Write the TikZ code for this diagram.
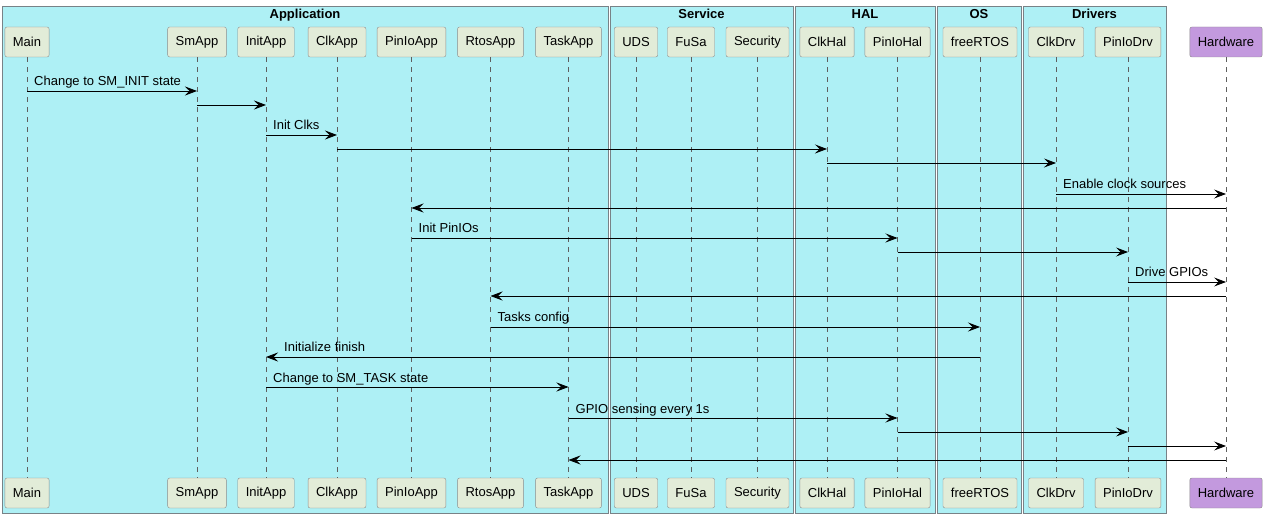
\documentclass[tikz,border=0pt]{standalone}
\usepackage{fontspec}
\setmainfont{Liberation Sans}
\usetikzlibrary{arrows.meta}
\definecolor{groupcyan}{RGB}{174,240,245}
\definecolor{partgreen}{RGB}{226,236,216}
\definecolor{hwpurple}{RGB}{195,153,222}
\definecolor{lifegray}{RGB}{95,95,95}
\definecolor{framegray}{RGB}{120,130,135}
\definecolor{partgray}{RGB}{140,140,140}

\begin{document}
\begin{tikzpicture}[
                x=1pt, y=-1pt,
                grp/.style={draw=framegray, fill=groupcyan, line width=0.9pt},
                grptitle/.style={font=\fontsize{13}{15}\selectfont\bfseries, anchor=base},
                part/.style={rectangle, draw=partgray, fill=partgreen, rounded corners=2pt, minimum height=30pt, inner xsep=8pt, font=\fontsize{13}{15}\selectfont},
                life/.style={draw=lifegray, dash pattern=on 5pt off 5pt, line width=0.6pt},
                msg/.style={-{Stealth[length=12pt,width=9pt,inset=4.5pt]}, line width=0.8pt},
                msglabel/.style={font=\fontsize{13}{15}\selectfont, anchor=base west, inner sep=0pt}
            ]
                \useasboundingbox (0,0) rectangle (1268,518);

                % group boxes
                \draw[grp] (2,6) rectangle (608,513);
                \draw[grp] (610,6) rectangle (793,513);
                \draw[grp] (795,6) rectangle (935,513);
                \draw[grp] (937,6) rectangle (1021,513);
                \draw[grp] (1023,6) rectangle (1166,513);
                \node[grptitle] (tapp) at (305,19) {Application};
                \node[grptitle] (tsrv) at (701.5,19) {Service};
                \node[grptitle] (thal) at (865,19) {HAL};
                \node[grptitle] (tos) at (979,19) {OS};
                \node[grptitle] (tdrv) at (1094.5,19) {Drivers};

                % participants, top and bottom
                \foreach \n/\x/\t in {main/27/Main, smapp/197/SmApp, initapp/266/InitApp, clkapp/337/ClkApp,
                    pinioapp/411.5/PinIoApp, rtosapp/490.5/RtosApp, taskapp/568.5/TaskApp, uds/636/UDS,
                    fusa/691/FuSa, security/757.5/Security, clkhal/827/ClkHal, piniohal/897.5/PinIoHal,
                    freertos/980/freeRTOS, clkdrv/1056/ClkDrv, piniodrv/1128/PinIoDrv} {
                    \node[part] (\n-top) at (\x,42) {\t};
                    \node[part] (\n-bot) at (\x,493) {\t};
                }
                \node[part, fill=hwpurple] (hardware-top) at (1226,42) {Hardware};
                \node[part, fill=hwpurple] (hardware-bot) at (1226,493) {Hardware};

                % lifelines
                \foreach \n in {main, smapp, initapp, clkapp, pinioapp, rtosapp, taskapp, uds, fusa,
                    security, clkhal, piniohal, freertos, clkdrv, piniodrv, hardware}
                    \draw[life] (\n-top.south) -- (\n-bot.north);

                % messages with a label
                \foreach \a/\b/\y/\t in {main/smapp/91/{Change to SM\_INIT state},
                    initapp/clkapp/135/{Init Clks},
                    clkdrv/hardware/194/{Enable clock sources},
                    pinioapp/piniohal/238/{Init PinIOs},
                    piniodrv/hardware/282/{Drive GPIOs},
                    rtosapp/freertos/327/{Tasks config},
                    initapp/taskapp/387/{Change to SM\_TASK state},
                    taskapp/piniohal/418/{GPIO sensing every 1s}} {
                    \draw[msg] (\a-top |- 0,\y) -- (\b-top |- 0,\y);
                    \path (\a-top |- 0,\y) ++(7,-5) node[msglabel] (lbl\y) {\t};
                }
                \draw[msg] (freertos-top |- 0,357) -- (initapp-top |- 0,357);
                \path (initapp-top |- 0,357) ++(18,-5) node[msglabel] (lbl357) {Initialize finish};

                % messages without a label
                \foreach \a/\b/\y in {smapp/initapp/105, clkapp/clkhal/149, clkhal/clkdrv/163,
                    hardware/pinioapp/208, piniohal/piniodrv/252, hardware/rtosapp/296,
                    piniohal/piniodrv/432, piniodrv/hardware/446, hardware/taskapp/460}
                    \draw[msg] (\a-top |- 0,\y) -- (\b-top |- 0,\y);
            \end{tikzpicture}
\end{document}
